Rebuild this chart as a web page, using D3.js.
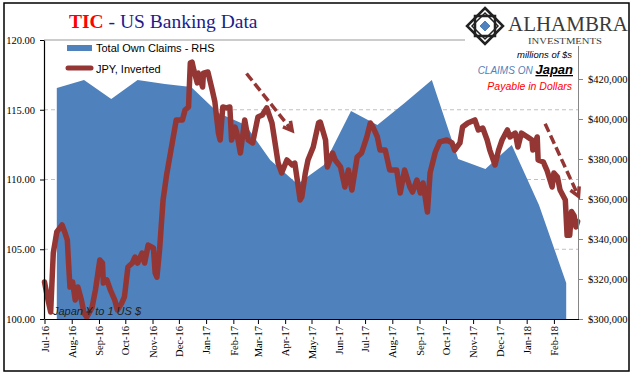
<!DOCTYPE html>
<html>
<head>
<meta charset="utf-8">
<script src="https://cdnjs.cloudflare.com/ajax/libs/d3/7.8.5/d3.min.js"></script>
<style>
body { margin: 0; background: #fff; }
svg { display: block; }
</style>
</head>
<body>
<div class="content"></div>
<script>
// monthly claims on Japan, millions of $ (RHS)
var claimMonths = ["2016-07-15", "2016-08-15", "2016-09-15", "2016-10-15", "2016-11-15", "2016-12-15",
    "2017-01-15", "2017-02-15", "2017-03-15", "2017-04-15", "2017-05-15", "2017-06-15",
    "2017-07-15", "2017-08-15", "2017-09-15", "2017-10-15", "2017-11-15", "2017-12-15",
    "2018-01-15", "2018-02-15"];
var claimValues = [415500, 419500, 410000, 419500, 417500, 416000,
    403000, 397000, 379500, 367500, 377000, 404000,
    397000, 408000, 419500, 380000, 375000, 387000,
    357000, 318000];

// JPY per USD (LHS)
var jpyDates = ["2016-07-01", "2016-07-05", "2016-07-08", "2016-07-11", "2016-07-15", "2016-07-21", "2016-07-24", "2016-07-27", "2016-07-28", "2016-07-30",
    "2016-08-02", "2016-08-05", "2016-08-08", "2016-08-12", "2016-08-15", "2016-08-18", "2016-08-24", "2016-08-28",
    "2016-09-02", "2016-09-05", "2016-09-06", "2016-09-10", "2016-09-14", "2016-09-19", "2016-09-22", "2016-09-27", "2016-09-30",
    "2016-10-04", "2016-10-09", "2016-10-12", "2016-10-15", "2016-10-20", "2016-10-23", "2016-10-27",
    "2016-11-02", "2016-11-04", "2016-11-06", "2016-11-09", "2016-11-13", "2016-11-17", "2016-11-20", "2016-11-24", "2016-11-28",
    "2016-12-02", "2016-12-05", "2016-12-08", "2016-12-12", "2016-12-14", "2016-12-16", "2016-12-18", "2016-12-22", "2016-12-23", "2016-12-28", "2016-12-29",
    "2017-01-03", "2017-01-08", "2017-01-11", "2017-01-15", "2017-01-17", "2017-01-20", "2017-01-24", "2017-01-28", "2017-01-30",
    "2017-02-03", "2017-02-05", "2017-02-09", "2017-02-14", "2017-02-18", "2017-02-23",
    "2017-03-01", "2017-03-06", "2017-03-11", "2017-03-17", "2017-03-20", "2017-03-24", "2017-03-28",
    "2017-04-03", "2017-04-09", "2017-04-12", "2017-04-16", "2017-04-18", "2017-04-20", "2017-04-24", "2017-04-27",
    "2017-05-03", "2017-05-09", "2017-05-11", "2017-05-17", "2017-05-19", "2017-05-25", "2017-05-28",
    "2017-06-03", "2017-06-08", "2017-06-12", "2017-06-16", "2017-06-22", "2017-06-27",
    "2017-07-03", "2017-07-07", "2017-07-10", "2017-07-15", "2017-07-18", "2017-07-24", "2017-07-29",
    "2017-08-06", "2017-08-10", "2017-08-15", "2017-08-21", "2017-08-24", "2017-08-29",
    "2017-09-02", "2017-09-05", "2017-09-10", "2017-09-13", "2017-09-19", "2017-09-24",
    "2017-10-02", "2017-10-08", "2017-10-11", "2017-10-17", "2017-10-20", "2017-10-26",
    "2017-11-03", "2017-11-07", "2017-11-12", "2017-11-17", "2017-11-20", "2017-11-26", "2017-11-30",
    "2017-12-04", "2017-12-10", "2017-12-13", "2017-12-19", "2017-12-22", "2017-12-26",
    "2018-01-02", "2018-01-07", "2018-01-08", "2018-01-13", "2018-01-14", "2018-01-20", "2018-01-24", "2018-01-30",
    "2018-02-01", "2018-02-05", "2018-02-08", "2018-02-14", "2018-02-16", "2018-02-19", "2018-02-21", "2018-02-24", "2018-02-26", "2018-02-28"];
var jpyValues = [102.65, 101.36, 100.50, 104.73, 106.24, 106.74, 106.24, 105.66, 104.44, 102.29,
    102.65, 101.36, 102.29, 101.36, 100.43, 100.14, 100.79, 102.08,
    104.23, 104.01, 102.58, 102.80, 102.08, 101.36, 100.65, 101.15, 101.58,
    103.73, 104.01, 104.44, 104.01, 104.73, 104.01, 105.30,
    105.09, 103.30, 103.00, 104.95, 108.53, 110.32, 111.40, 112.83, 114.27,
    114.27, 114.27, 114.98, 115.20, 118.35, 118.42, 117.85, 116.92, 117.63, 116.63, 117.63,
    117.71, 116.40, 115.56, 113.33, 112.83, 115.20, 115.13, 115.20, 112.83,
    113.76, 113.33, 111.90, 114.27, 112.83, 112.62,
    114.48, 114.62, 115.13, 114.05, 112.83, 111.18, 110.47,
    111.40, 111.04, 111.18, 109.46, 108.53, 108.75, 110.47, 111.40,
    112.33, 114.05, 114.12, 112.83, 110.90, 111.90, 111.40,
    110.90, 109.46, 110.68, 109.25, 111.61, 111.90,
    113.05, 114.05, 113.76, 113.05, 112.11, 112.11, 110.68,
    110.68, 109.03, 110.68, 109.46, 109.10, 109.96,
    109.03, 109.75, 107.67, 110.47, 111.97, 112.69,
    112.83, 112.62, 112.11, 112.62, 113.76, 114.05,
    114.27, 113.55, 113.69, 112.83, 112.11, 111.04, 112.11,
    112.83, 113.55, 113.05, 113.33, 112.33, 113.33,
    113.05, 112.83, 112.11, 113.05, 111.40, 111.25, 110.68, 109.46,
    110.47, 110.18, 109.25, 108.53, 106.00, 106.00, 107.70, 107.40, 106.60, 107.00];

var leftTicks = [100, 105, 110, 115, 120];
var gridTicks = [105, 110, 115];
var rightTicks = [300000, 320000, 340000, 360000, 380000, 400000, 420000];
var monthTicks = ["2016-07-01", "2016-08-01", "2016-09-01", "2016-10-01", "2016-11-01", "2016-12-01",
    "2017-01-01", "2017-02-01", "2017-03-01", "2017-04-01", "2017-05-01", "2017-06-01",
    "2017-07-01", "2017-08-01", "2017-09-01", "2017-10-01", "2017-11-01", "2017-12-01",
    "2018-01-01", "2018-02-01"];

// trend arrows: [start date, start JPY, end date, end JPY]
var arrows = [
    ["2017-02-16", 117.6, "2017-04-09", 113.5],
    ["2018-01-22", 114.0, "2018-03-01", 108.8]
];

var parse = d3.timeParse("%Y-%m-%d");
var serif = '"Liberation Serif", "Times New Roman", serif';
var sans = '"Liberation Sans", Arial, sans-serif';
var red = "#943634";
var blue = "#4f81bd";

var svg = d3.select('.content').append('svg')
    .attr('width', 641)
    .attr('height', 381);

var x = d3.scaleTime()
    .domain([parse("2016-07-01"), parse("2018-03-01")])
    .range([44.5, 578.5]);
var yL = d3.scaleLinear().domain([100, 120]).range([319, 40]);
var yR = d3.scaleLinear().domain([300000, 440000]).range([319, 39]);

var claims = claimMonths.map(function(d, i) {
    return { date: parse(d), value: claimValues[i] };
});
var jpy = jpyDates.map(function(d, i) {
    return { date: parse(d), value: jpyValues[i] };
});

// gridlines
gridTicks.forEach(function(v) {
    svg.append('line')
        .attr('x1', 44).attr('x2', 578)
        .attr('y1', yL(v)).attr('y2', yL(v))
        .attr('stroke', '#c0c0c0')
        .attr('stroke-dasharray', '4,3');
});
svg.append('line')
    .attr('x1', 44).attr('x2', 578)
    .attr('y1', yL(120)).attr('y2', yL(120))
    .attr('stroke', '#999');

// area
svg.append('path')
    .datum(claims)
    .attr('fill', blue)
    .attr('d', d3.area()
        .x(function(d) { return x(d.date); })
        .y0(yR(300000))
        .y1(function(d) { return yR(d.value); }));

// JPY line
svg.append('path')
    .datum(jpy)
    .attr('fill', 'none')
    .attr('stroke', red)
    .attr('stroke-width', 5.5)
    .attr('stroke-linejoin', 'round')
    .attr('stroke-linecap', 'round')
    .attr('d', d3.line()
        .x(function(d) { return x(d.date); })
        .y(function(d) { return yL(d.value); }));

// axes
var gL = svg.append('g')
    .attr('transform', 'translate(44,0)')
    .call(d3.axisLeft(yL).tickValues(leftTicks).tickFormat(d3.format('.2f'))
        .tickSize(4).tickSizeOuter(0).tickPadding(5));
gL.select('.domain').attr('stroke', '#000').attr('stroke-width', 1.2);

var gR = svg.append('g')
    .attr('transform', 'translate(578,0)')
    .call(d3.axisRight(yR).tickValues(rightTicks).tickFormat(d3.format('$,'))
        .tickSize(5).tickSizeOuter(0).tickPadding(5));
gR.selectAll('.domain, line').attr('stroke', '#868686');

var gX = svg.append('g')
    .attr('transform', 'translate(0,319)')
    .call(d3.axisBottom(x).tickValues(monthTicks.map(parse)).tickFormat(d3.timeFormat('%b-%y'))
        .tickSize(5).tickSizeOuter(0));
gX.select('.domain').attr('stroke', '#000').attr('stroke-width', 1.2);
gX.selectAll('text')
    .attr('transform', 'rotate(-90)')
    .attr('text-anchor', 'end')
    .attr('x', -7)
    .attr('y', 0)
    .attr('dy', '.35em');

svg.selectAll('.tick text')
    .attr('font-family', serif)
    .attr('font-size', '10.5px')
    .attr('fill', '#000');

// arrows
arrows.forEach(function(a) {
    var x1 = x(parse(a[0])), y1 = yL(a[1]), x2 = x(parse(a[2])), y2 = yL(a[3]);
    var ang = Math.atan2(y2 - y1, x2 - x1);
    svg.append('line')
        .attr('x1', x1).attr('y1', y1)
        .attr('x2', x2 - 3 * Math.cos(ang)).attr('y2', y2 - 3 * Math.sin(ang))
        .attr('stroke', red)
        .attr('stroke-width', 3.5)
        .attr('stroke-dasharray', '9,4');
    var len = 10;
    svg.append('path')
        .attr('d', 'M' + (x2 - len * Math.cos(ang - 0.5)) + ',' + (y2 - len * Math.sin(ang - 0.5)) +
            'L' + x2 + ',' + y2 +
            'L' + (x2 - len * Math.cos(ang + 0.5)) + ',' + (y2 - len * Math.sin(ang + 0.5)))
        .attr('fill', 'none')
        .attr('stroke', red)
        .attr('stroke-width', 3.5);
});

// legend
svg.append('rect')
    .attr('x', 67).attr('y', 45).attr('width', 25).attr('height', 6)
    .attr('fill', blue);
svg.append('text')
    .attr('x', 96).attr('y', 52)
    .attr('font-family', sans).attr('font-size', '11px')
    .text('Total Own Claims - RHS');
svg.append('line')
    .attr('x1', 68).attr('x2', 91).attr('y1', 68).attr('y2', 68)
    .attr('stroke', red).attr('stroke-width', 5).attr('stroke-linecap', 'round');
svg.append('text')
    .attr('x', 96).attr('y', 73)
    .attr('font-family', sans).attr('font-size', '11px')
    .text('JPY, Inverted');

// notes
svg.append('text')
    .attr('x', 53).attr('y', 315)
    .attr('font-family', sans).attr('font-size', '11px').attr('font-style', 'italic')
    .attr('fill', '#222')
    .text('Japan ¥ to 1 US $');

svg.append('text')
    .attr('x', 572).attr('y', 58)
    .attr('text-anchor', 'end')
    .attr('font-family', sans).attr('font-size', '9.5px').attr('font-style', 'italic')
    .text('millions of $s');

var claimsOn = svg.append('text')
    .attr('x', 573).attr('y', 74)
    .attr('text-anchor', 'end')
    .attr('font-family', sans).attr('font-style', 'italic');
claimsOn.append('tspan')
    .attr('font-size', '10px').attr('fill', blue)
    .text('CLAIMS  ON ');
claimsOn.append('tspan')
    .attr('font-size', '13px').attr('font-weight', 'bold').attr('fill', '#000')
    .style('text-decoration', 'underline')
    .text('Japan');

svg.append('text')
    .attr('x', 572).attr('y', 90)
    .attr('text-anchor', 'end')
    .attr('font-family', sans).attr('font-size', '10.5px').attr('font-style', 'italic')
    .attr('fill', '#ff0000')
    .text('Payable  in Dollars');

// title
var title = svg.append('text')
    .attr('x', 69).attr('y', 28)
    .attr('font-family', serif).attr('font-size', '19.5px');
title.append('tspan').attr('fill', '#ff0000').attr('font-weight', 'bold').text('TIC');
title.append('tspan').attr('fill', '#1c1c8c').text(' - US Banking Data');

// logo
svg.append('rect')
    .attr('x', 465).attr('y', 5).attr('width', 162).attr('height', 41)
    .attr('fill', '#fff');
var logo = svg.append('g').attr('transform', 'translate(485,26)');
logo.append('path')
    .attr('d', 'M0,-18L18,0L0,18L-18,0Z')
    .attr('fill', 'none').attr('stroke', '#222').attr('stroke-width', 2.5);
logo.append('rect')
    .attr('x', -10).attr('y', -10).attr('width', 20).attr('height', 20)
    .attr('fill', 'none').attr('stroke', '#222').attr('stroke-width', 2.5);
logo.append('path')
    .attr('d', 'M0,-13L13,0L0,13L-13,0Z')
    .attr('fill', 'none').attr('stroke', '#222').attr('stroke-width', 1.5);
logo.append('path')
    .attr('d', 'M-14,-4L-4,-14M4,-14L14,-4M14,4L4,14M-4,14L-14,4')
    .attr('fill', 'none').attr('stroke', '#222').attr('stroke-width', 1.2);
logo.append('path')
    .attr('d', 'M0,-6L6,0L0,6L-6,0Z')
    .attr('fill', blue).attr('stroke', '#fff').attr('stroke-width', 1);
svg.append('text')
    .attr('x', 508).attr('y', 31)
    .attr('font-family', serif).attr('font-size', '21px')
    .attr('fill', '#3a3a3a')
    .attr('textLength', 120).attr('lengthAdjust', 'spacingAndGlyphs')
    .text('ALHAMBRA');
svg.append('text')
    .attr('x', 528).attr('y', 44)
    .attr('font-family', serif).attr('font-size', '9px')
    .attr('fill', '#3a3a3a')
    .attr('textLength', 74).attr('lengthAdjust', 'spacingAndGlyphs')
    .text('INVESTMENTS');

// frame
svg.append('rect')
    .attr('x', 4).attr('y', 3).attr('width', 625).attr('height', 368)
    .attr('fill', 'none').attr('stroke', '#000').attr('stroke-width', 1.5);
</script>
</body>
</html>
